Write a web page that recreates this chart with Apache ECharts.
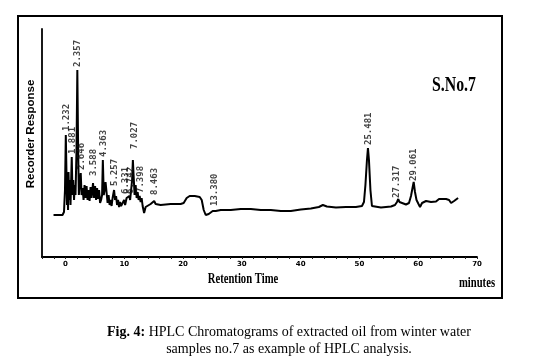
<!DOCTYPE html>
<html><head><meta charset="utf-8">
<script src="https://cdn.jsdelivr.net/npm/echarts@6/dist/echarts.min.js"></script>
<style>html,body{margin:0;padding:0;background:#fff}#c{width:534px;height:362px}</style>
</head><body><div id="c"></div>
<script>
// Chromatogram trace: retention time (axis units) and detector response (arbitrary units)
var traceT = [-2.04,-0.51,-0.26,-0.09,0.05,0.17,0.26,0.34,0.43,0.51,0.63,0.73,0.85,0.94,1.06,1.19,1.31,1.45,1.57,1.70,1.87,2.01,2.15,2.27,2.39,2.59,2.73,2.90,3.07,3.24,3.41,3.58,3.75,3.92,4.09,4.26,4.43,4.68,4.86,5.03,5.20,5.37,5.54,5.71,5.88,6.05,6.22,6.35,6.51,6.64,6.81,6.98,7.16,7.33,7.50,7.67,7.84,8.01,8.26,8.43,8.60,8.77,8.94,9.11,9.28,9.45,9.71,9.97,10.14,10.39,10.65,10.85,10.99,11.16,11.33,11.46,11.58,11.75,11.93,12.10,12.27,12.44,12.61,12.78,12.95,13.12,13.37,13.63,13.97,14.48,14.82,15.08,15.33,16.18,17.89,19.59,20.10,20.61,21.12,21.98,22.83,23.17,23.51,23.85,24.36,24.70,25.04,25.30,25.55,26.41,28.11,29.81,31.52,33.22,34.92,36.63,38.33,40.03,41.74,43.10,43.78,44.46,46.00,47.70,49.40,50.43,50.77,51.02,51.28,51.45,51.62,51.87,52.13,52.47,53.66,55.37,56.05,56.39,56.61,56.81,57.07,57.92,58.43,58.77,59.03,59.23,59.45,59.71,59.88,60.05,60.31,60.65,61.33,62.18,63.03,63.54,64.74,65.25,65.59,66.10,66.78];
var traceV = [42,42,45,67,122,82,52,67,47,85,57,77,52,72,100,62,77,57,72,62,107,187,107,62,72,84,62,69,57,72,59,71,57,67,56,70,59,74,59,71,57,69,58,67,54,57,62,97,62,67,75,77,54,62,52,57,51,59,67,57,61,52,57,50,55,51,53,57,52,59,57,61,57,67,77,97,82,62,72,59,65,57,61,55,59,51,44,50,52,53,54,56,53,52,53,53,54,59,61,61,60,57,47,42,43,45,46,48,46,47,47,48,48,47,47,46,46,47.5,48.5,50,52,50.5,49.5,50,50,51,55,72,97,109,97,67,51,49,49.5,50.5,52,55,58,55,53,52.5,54,61,69,75,65,57,58,53,50,54,56,55,55.5,58,58,57,54,56,59];

// Peak annotations
var peakLabels = ['1.232','1.881','2.357','2.646','3.588','4.363','5.257','6.331','6.742','7.027','7.398','8.463','13.380','25.481','27.317','29.061'];
var peakT = [0.17,1.19,2.04,2.81,4.77,6.47,8.35,10.22,11.07,11.75,12.78,15.16,25.38,51.62,56.39,59.28];
var peakV = [125,102,189,86,80,99,70,62,62,107,63,61,50,111,58,75];

// Axis ticks
var xMin = -4, xMax = 70, xStep = 2, xLabelStep = 10;
var yMin = 0, yMax = 228;

var chart = echarts.init(document.getElementById('c'), null, {renderer:'canvas'});
var lineData = traceT.map(function(t,i){return [t, traceV[i]];});
var peakData = peakT.map(function(t,i){return {value:[t, peakV[i]], name: peakLabels[i]};});

chart.setOption({
  animation:false,
  backgroundColor:'#fff',
  grid:{left:42, right:57, top:29, bottom:105},
  xAxis:{type:'value', min:xMin, max:xMax, interval:xStep,
    axisLine:{show:true, onZero:false, lineStyle:{color:'#000', width:1.8}},
    axisTick:{show:true, inside:false, length:2, lineStyle:{color:'#222', width:1}},
    splitLine:{show:false},
    axisLabel:{show:true, margin:4, fontSize:7, fontWeight:'bold', color:'#000', fontFamily:'DejaVu Sans',
      formatter:function(v){return (v % xLabelStep === 0) ? String(v) : '';}}
  },
  yAxis:{type:'value', min:yMin, max:yMax,
    axisLine:{show:true, onZero:false, lineStyle:{color:'#000', width:1.8}},
    axisTick:{show:false}, axisLabel:{show:false}, splitLine:{show:false}
  },
  series:[
    {type:'line', data:lineData, showSymbol:false, symbol:'none',
      lineStyle:{color:'#000', width:2}, z:3},
    {type:'scatter', data:peakData, symbolSize:0, z:4,
      label:{show:true, position:'top', distance:1, rotate:90, align:'left', verticalAlign:'middle',
        formatter:function(p){return p.name;}, fontFamily:'DejaVu Sans Mono', fontWeight:'bold', fontSize:9, color:'#111'}}
  ],
  graphic:[
    {type:'rect', shape:{x:18, y:16, width:484, height:282}, style:{fill:null, stroke:'#000', lineWidth:2}, silent:true, z:1},
    {type:'text', x:31, y:134, rotation:Math.PI/2, style:{text:'Recorder Response', fontFamily:'Liberation Sans', fontWeight:'bold', fontSize:11.5, fill:'#000', align:'center', verticalAlign:'middle'}},
    {type:'text', x:454, y:85, scaleX:0.72, style:{text:'S.No.7', fontFamily:'Liberation Serif', fontWeight:'bold', fontSize:22, fill:'#000', align:'center', verticalAlign:'middle'}},
    {type:'text', x:243, y:279, scaleX:0.76, style:{text:'Retention Time', fontFamily:'Liberation Serif', fontWeight:'bold', fontSize:14, fill:'#000', align:'center', verticalAlign:'middle'}},
    {type:'text', x:477, y:283, scaleX:0.76, style:{text:'minutes', fontFamily:'Liberation Serif', fontWeight:'bold', fontSize:14, fill:'#000', align:'center', verticalAlign:'middle'}},
    {type:'text', x:289, y:332, style:{text:'{b|Fig. 4:} HPLC Chromatograms of extracted oil from winter water', fontFamily:'Liberation Serif', fontSize:14, fill:'#000', align:'center', verticalAlign:'middle', rich:{b:{fontFamily:'Liberation Serif', fontSize:14, fontWeight:'bold', fill:'#000'}}}},
    {type:'text', x:289, y:349, style:{text:'samples no.7 as example of HPLC analysis.', fontFamily:'Liberation Serif', fontSize:14, fill:'#000', align:'center', verticalAlign:'middle'}}
  ]
});
</script></body></html>
